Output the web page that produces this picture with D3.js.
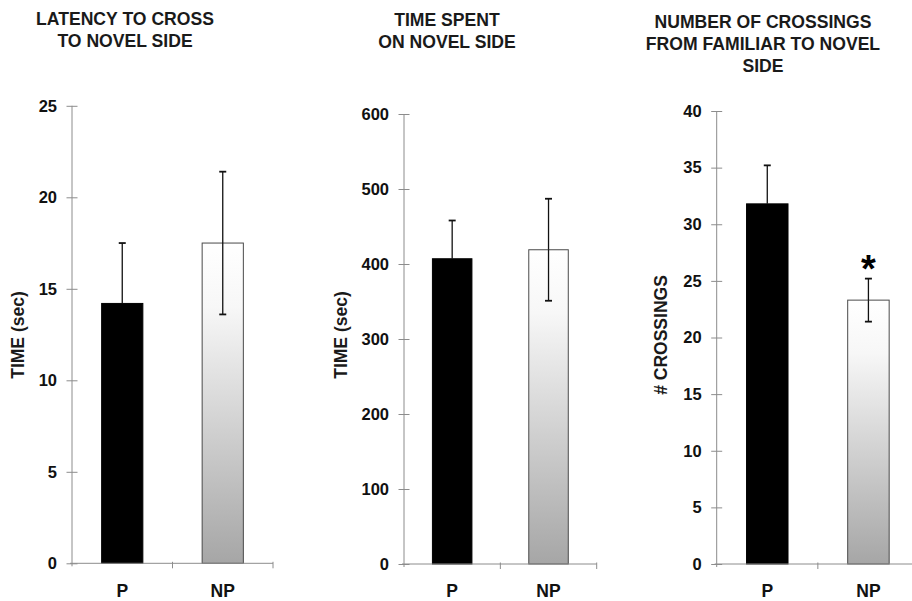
<!DOCTYPE html>
<html>
<head>
<meta charset="utf-8">
<script src="https://cdn.jsdelivr.net/npm/d3@7/dist/d3.min.js"></script>
<style>
  html, body { margin: 0; padding: 0; background: #fff; }
  svg { display: block; font-family: "Liberation Sans", Arial, sans-serif; }
</style>
</head>
<body>
<svg id="chart" width="912" height="601"></svg>
<script>
// Groups on the x axis
const categories = ["P", "NP"];

// Latency to cross to novel side (sec): mean and SEM
const latencyMean = [14.2, 17.5];
const latencySEM = [3.3, 3.9];
const latencyTicks = [0, 5, 10, 15, 20, 25];

// Time spent on novel side (sec): mean and SEM
const timeMean = [407, 419];
const timeSEM = [51, 68];
const timeTicks = [0, 100, 200, 300, 400, 500, 600];

// Number of crossings from familiar to novel side: mean and SEM
const crossMean = [31.8, 23.3];
const crossSEM = [3.4, 1.9];
const crossTicks = [0, 5, 10, 15, 20, 25, 30, 35, 40];

// Significance marks per group
const crossSig = ["", "*"];

const svg = d3.select("#chart");

// Shaded fill for the NP bars: white at top fading to grey at the base
const defs = svg.append("defs");
const grad = defs.append("linearGradient")
  .attr("id", "npFill").attr("x1", 0).attr("y1", 0).attr("x2", 0).attr("y2", 1);
grad.append("stop").attr("offset", "0%").attr("stop-color", "#ffffff");
grad.append("stop").attr("offset", "20%").attr("stop-color", "#f7f7f7");
grad.append("stop").attr("offset", "100%").attr("stop-color", "#a6a6a6");

const panels = [
  {
    title: ["LATENCY TO CROSS", "TO NOVEL SIDE"], titleX: 125, titleY: 25,
    yLabel: "TIME (sec)", yLabelX: 18,
    mean: latencyMean, sem: latencySEM, ticks: latencyTicks, sig: ["", ""],
    x0: 72, x1: 273, yBottom: 563.3, yTop: 105.8
  },
  {
    title: ["TIME SPENT", "ON NOVEL SIDE"], titleX: 447, titleY: 26,
    yLabel: "TIME (sec)", yLabelX: 341,
    mean: timeMean, sem: timeSEM, ticks: timeTicks, sig: ["", ""],
    x0: 404, x1: 596.7, yBottom: 564, yTop: 114
  },
  {
    title: ["NUMBER OF CROSSINGS", "FROM FAMILIAR TO NOVEL", "SIDE"], titleX: 763, titleY: 28,
    yLabel: "# CROSSINGS", yLabelX: 661,
    mean: crossMean, sem: crossSEM, ticks: crossTicks, sig: crossSig,
    x0: 716.7, x1: 919, yBottom: 564, yTop: 111
  }
];

const axisColor = "#8c8c8c";

panels.forEach(p => {
  const g = svg.append("g");
  const maxTick = d3.max(p.ticks);
  const y = d3.scaleLinear().domain([0, maxTick]).range([p.yBottom, p.yTop]);
  const x = d3.scaleBand().domain(categories).range([p.x0, p.x1]).padding(0);
  const barW = x.bandwidth() * 0.41;
  const cx = d => x(d) + x.bandwidth() / 2;
  const rows = categories.map((c, i) => ({ c, i, mean: p.mean[i], sem: p.sem[i], sig: p.sig[i] }));

  // Title lines
  const t = g.append("text")
    .attr("x", p.titleX).attr("y", p.titleY)
    .attr("text-anchor", "middle")
    .attr("font-size", 17.6).attr("font-weight", "bold").attr("fill", "#1a1a1a");
  p.title.forEach((line, i) => {
    t.append("tspan").attr("x", p.titleX).attr("dy", i === 0 ? 0 : 22).text(line);
  });

  // Bars
  g.selectAll("rect.bar").data(rows).join("rect")
    .attr("class", "bar")
    .attr("x", d => x(d.c) + (x.bandwidth() - barW) / 2)
    .attr("width", barW)
    .attr("y", d => y(d.mean))
    .attr("height", d => y(0) - y(d.mean))
    .attr("fill", d => d.i === 0 ? "#000" : "url(#npFill)")
    .attr("stroke", d => d.i === 0 ? "#000" : "#4a4a4a")
    .attr("stroke-width", 1);

  // Error whiskers (mean ± SEM); the lower one is hidden inside the solid black bar
  const whisker = (sel, sign) => {
    sel.append("line")
      .attr("x1", d => cx(d.c)).attr("x2", d => cx(d.c))
      .attr("y1", d => y(d.mean))
      .attr("y2", d => y(d.mean + sign * d.sem))
      .attr("stroke", "#111").attr("stroke-width", 1.3);
    sel.append("line")
      .attr("x1", d => cx(d.c) - 3.5).attr("x2", d => cx(d.c) + 3.5)
      .attr("y1", d => y(d.mean + sign * d.sem))
      .attr("y2", d => y(d.mean + sign * d.sem))
      .attr("stroke", "#111").attr("stroke-width", 1.8);
  };
  whisker(g.selectAll("g.errUp").data(rows).join("g").attr("class", "errUp"), 1);
  whisker(g.selectAll("g.errDown").data(rows.filter(d => d.i > 0)).join("g").attr("class", "errDown"), -1);

  // Significance asterisks above the upper whisker
  g.selectAll("text.sig").data(rows).join("text")
    .attr("class", "sig")
    .attr("x", d => cx(d.c))
    .attr("y", d => y(d.mean + d.sem) + 3)
    .attr("text-anchor", "middle")
    .attr("font-size", 38).attr("font-weight", "bold")
    .text(d => d.sig);

  // Y axis: line, crossing ticks, labels
  const yAxis = d3.axisLeft(y).tickValues(p.ticks).tickSize(0).tickPadding(15);
  const ya = g.append("g").attr("transform", `translate(${p.x0},0)`).call(yAxis);
  ya.select(".domain").attr("stroke", axisColor).attr("d", `M0,${p.yBottom + 3}V${p.yTop}`);
  ya.selectAll(".tick line").remove();
  ya.selectAll(".tick").append("line")
    .attr("x1", -5.5).attr("x2", 5.5).attr("stroke", axisColor);
  ya.selectAll(".tick text")
    .attr("font-size", 16.5).attr("font-weight", "bold").attr("fill", "#111")
    .attr("font-family", "'Liberation Sans', Arial, sans-serif");

  // X axis: baseline with ticks at group boundaries
  const bounds = [p.x0 + x.bandwidth(), p.x1];
  g.append("line")
    .attr("x1", p.x0 - 2).attr("x2", p.x1)
    .attr("y1", y(0)).attr("y2", y(0))
    .attr("stroke", axisColor);
  g.selectAll("line.xt").data(bounds).join("line")
    .attr("class", "xt")
    .attr("x1", d => d).attr("x2", d => d)
    .attr("y1", y(0) - 1.5).attr("y2", y(0) + 5)
    .attr("stroke", axisColor);

  // Group labels
  g.selectAll("text.cat").data(rows).join("text")
    .attr("class", "cat")
    .attr("x", d => cx(d.c)).attr("y", 597)
    .attr("text-anchor", "middle")
    .attr("font-size", 17.5).attr("font-weight", "bold").attr("fill", "#111")
    .text(d => d.c);

  // Y axis title
  g.append("text")
    .attr("transform", `translate(${p.yLabelX + 6},335) rotate(-90)`)
    .attr("text-anchor", "middle")
    .attr("font-size", 17.5).attr("font-weight", "bold").attr("fill", "#1a1a1a")
    .text(p.yLabel);
});
</script>
</body>
</html>
